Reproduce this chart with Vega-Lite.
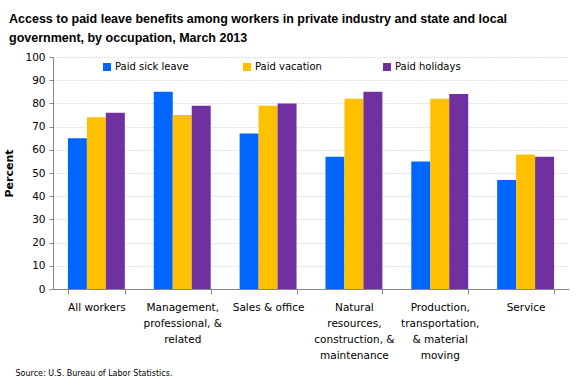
{
  "$schema": "https://vega.github.io/schema/vega-lite/v6.json",
  "width": 516,
  "height": 232,
  "autosize": {"type": "none"},
  "padding": {"left": 53, "top": 57, "right": 11, "bottom": 101},
  "background": "white",
  "title": {
    "text": ["Access to paid leave benefits among workers in private industry and state and local", "government, by occupation, March 2013"],
    "anchor": "start",
    "frame": "group",
    "dx": -44,
    "offset": 8,
    "font": "Liberation Sans",
    "fontSize": 12.5,
    "fontWeight": "bold",
    "color": "#000000",
    "lineHeight": 19
  },
  "config": {
    "view": {"stroke": null},
    "font": "DejaVu Sans"
  },
  "data": {
    "values": [
      {"occupation": "All workers", "type": "Paid sick leave", "percent": 65},
      {"occupation": "All workers", "type": "Paid vacation", "percent": 74},
      {"occupation": "All workers", "type": "Paid holidays", "percent": 76},
      {"occupation": "Management, professional, & related", "type": "Paid sick leave", "percent": 85},
      {"occupation": "Management, professional, & related", "type": "Paid vacation", "percent": 75},
      {"occupation": "Management, professional, & related", "type": "Paid holidays", "percent": 79},
      {"occupation": "Sales & office", "type": "Paid sick leave", "percent": 67},
      {"occupation": "Sales & office", "type": "Paid vacation", "percent": 79},
      {"occupation": "Sales & office", "type": "Paid holidays", "percent": 80},
      {"occupation": "Natural resources, construction, & maintenance", "type": "Paid sick leave", "percent": 57},
      {"occupation": "Natural resources, construction, & maintenance", "type": "Paid vacation", "percent": 82},
      {"occupation": "Natural resources, construction, & maintenance", "type": "Paid holidays", "percent": 85},
      {"occupation": "Production, transportation, & material moving", "type": "Paid sick leave", "percent": 55},
      {"occupation": "Production, transportation, & material moving", "type": "Paid vacation", "percent": 82},
      {"occupation": "Production, transportation, & material moving", "type": "Paid holidays", "percent": 84},
      {"occupation": "Service", "type": "Paid sick leave", "percent": 47},
      {"occupation": "Service", "type": "Paid vacation", "percent": 58},
      {"occupation": "Service", "type": "Paid holidays", "percent": 57}
    ]
  },
  "mark": {"type": "bar"},
  "encoding": {
    "x": {
      "field": "occupation",
      "type": "nominal",
      "sort": ["All workers", "Management, professional, & related", "Sales & office", "Natural resources, construction, & maintenance", "Production, transportation, & material moving", "Service"],
      "scale": {"paddingInner": 0.337, "paddingOuter": 0.174},
      "axis": {
        "title": "Source: U.S. Bureau of Labor Statistics.",
        "titleFont": "DejaVu Sans",
        "titleFontSize": 8,
        "titleFontWeight": "normal",
        "titleColor": "#000000",
        "titleAnchor": "start",
        "titleAlign": "left",
        "titleBaseline": "middle",
        "titleX": -38,
        "titleY": 84,
        "labelAngle": 0,
        "labelFontSize": 10.5,
        "labelColor": "#000000",
        "labelLineHeight": 16,
        "labelPadding": 8,
        "labelBaseline": "top",
        "labelLimit": 200,
        "tickBand": "extent",
        "tickSize": 5,
        "tickColor": "#868686",
        "domainColor": "#868686",
        "labelExpr": "datum.value == 'Management, professional, & related' ? ['Management,', 'professional, &', 'related'] : datum.value == 'Natural resources, construction, & maintenance' ? ['Natural', 'resources,', 'construction, &', 'maintenance'] : datum.value == 'Production, transportation, & material moving' ? ['Production,', 'transportation,', '& material', 'moving'] : datum.value"
      }
    },
    "xOffset": {
      "field": "type",
      "type": "nominal",
      "sort": ["Paid sick leave", "Paid vacation", "Paid holidays"],
      "scale": {"paddingInner": 0, "paddingOuter": 0}
    },
    "y": {
      "field": "percent",
      "type": "quantitative",
      "scale": {"domain": [0, 100]},
      "axis": {
        "title": "Percent",
        "titleFontSize": 11,
        "titleFontWeight": "bold",
        "titleColor": "#000000",
        "titlePadding": 10,
        "values": [0, 10, 20, 30, 40, 50, 60, 70, 80, 90, 100],
        "labelFontSize": 10.5,
        "labelColor": "#000000",
        "labelPadding": 4,
        "tickSize": 4,
        "tickColor": "#868686",
        "domainColor": "#868686",
        "grid": true,
        "gridColor": "#c0c0c0",
        "gridDash": [1, 2]
      }
    },
    "color": {
      "field": "type",
      "type": "nominal",
      "sort": ["Paid sick leave", "Paid vacation", "Paid holidays"],
      "scale": {"domain": ["Paid sick leave", "Paid vacation", "Paid holidays"], "range": ["#0066FF", "#FFC000", "#7030A0"]},
      "legend": {
        "title": null,
        "orient": "none",
        "legendX": 49,
        "legendY": 5,
        "direction": "horizontal",
        "columns": 3,
        "gridAlign": "all",
        "columnPadding": 53,
        "symbolType": "square",
        "symbolSize": 64,
        "symbolStrokeWidth": 0,
        "labelFontSize": 10,
        "labelColor": "#000000",
        "labelOffset": 3
      }
    }
  }
}
